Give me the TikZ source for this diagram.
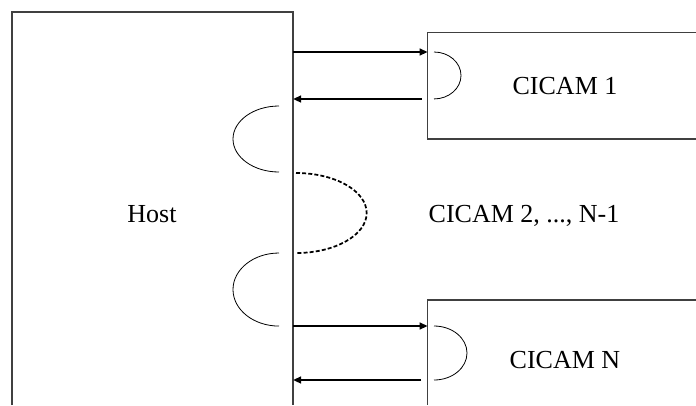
\documentclass[tikz,border=0pt]{standalone}
\usepackage{fontspec}
\setmainfont{Liberation Serif}
\usetikzlibrary{arrows.meta}
\begin{document}
\begin{tikzpicture}[x=0.75pt,y=-0.75pt,
  boxline/.style={draw=black!75,line width=0.8pt},
  sig/.style={line width=1.5pt,-{Triangle[length=6pt,width=5pt]}},
  loop/.style={line width=0.6pt},
  dloop/.style={line width=1.3pt,dash pattern=on 3pt off 1.6pt},
  lbl/.style={anchor=base,inner sep=0pt,font=\fontsize{19.5pt}{22pt}\selectfont}]
\useasboundingbox (0,0) rectangle (696,405);
% Host box
\coordinate (hbl) at (12,405);
\coordinate (htl) at (12,12);
\coordinate (htr) at (293,12);
\coordinate (hbr) at (293,405);
\draw[boxline] (hbl) -- (htl) -- (htr) -- (hbr);
% CICAM 1 box
\coordinate (c1tr) at (696,32.5);
\coordinate (c1tl) at (427.7,32.5);
\coordinate (c1bl) at (427.7,139);
\coordinate (c1br) at (696,139);
\draw[boxline] (c1tr) -- (c1tl) -- (c1bl) -- (c1br);
% CICAM N box
\coordinate (cntr) at (696,300);
\coordinate (cntl) at (427.7,300);
\coordinate (cnbl) at (427.7,405);
\draw[boxline] (cntr) -- (cntl) -- (cnbl);
% labels
\node[lbl] (host) at (152,222) {Host};
\node[lbl] (cicam1) at (565,94.3) {CICAM 1};
\node[lbl] (cicam2) at (524,222) {CICAM 2, ..., N-1};
\node[lbl] (cicamn) at (565,368.3) {CICAM N};
% arrows
\coordinate (a1s) at (293,52);  \coordinate (a1e) at (427.7,52);
\coordinate (a2s) at (421.5,99); \coordinate (a2e) at (293,99);
\coordinate (a3s) at (293,326); \coordinate (a3e) at (427.7,326);
\coordinate (a4s) at (421,380); \coordinate (a4e) at (293,380);
\draw[sig] (a1s) -- (a1e);
\draw[sig] (a2s) -- (a2e);
\draw[sig] (a3s) -- (a3e);
\draw[sig] (a4s) -- (a4e);
% loops
\coordinate (l1) at (279,106);
\draw[loop] (l1) arc[start angle=90,end angle=270,x radius=34.5pt,y radius=24.75pt];
\coordinate (l2) at (279,253);
\draw[loop] (l2) arc[start angle=90,end angle=270,x radius=34.5pt,y radius=27.4pt];
\coordinate (l3) at (434,52);
\draw[loop] (l3) arc[start angle=90,end angle=-90,x radius=20.25pt,y radius=17.6pt];
\coordinate (l4) at (434,326);
\draw[loop] (l4) arc[start angle=90,end angle=-90,x radius=24.75pt,y radius=20.25pt];
\coordinate (d1) at (296,173);
\draw[dloop] (d1) arc[start angle=90,end angle=-90,x radius=53pt,y radius=30pt];
\end{tikzpicture}
\end{document}
